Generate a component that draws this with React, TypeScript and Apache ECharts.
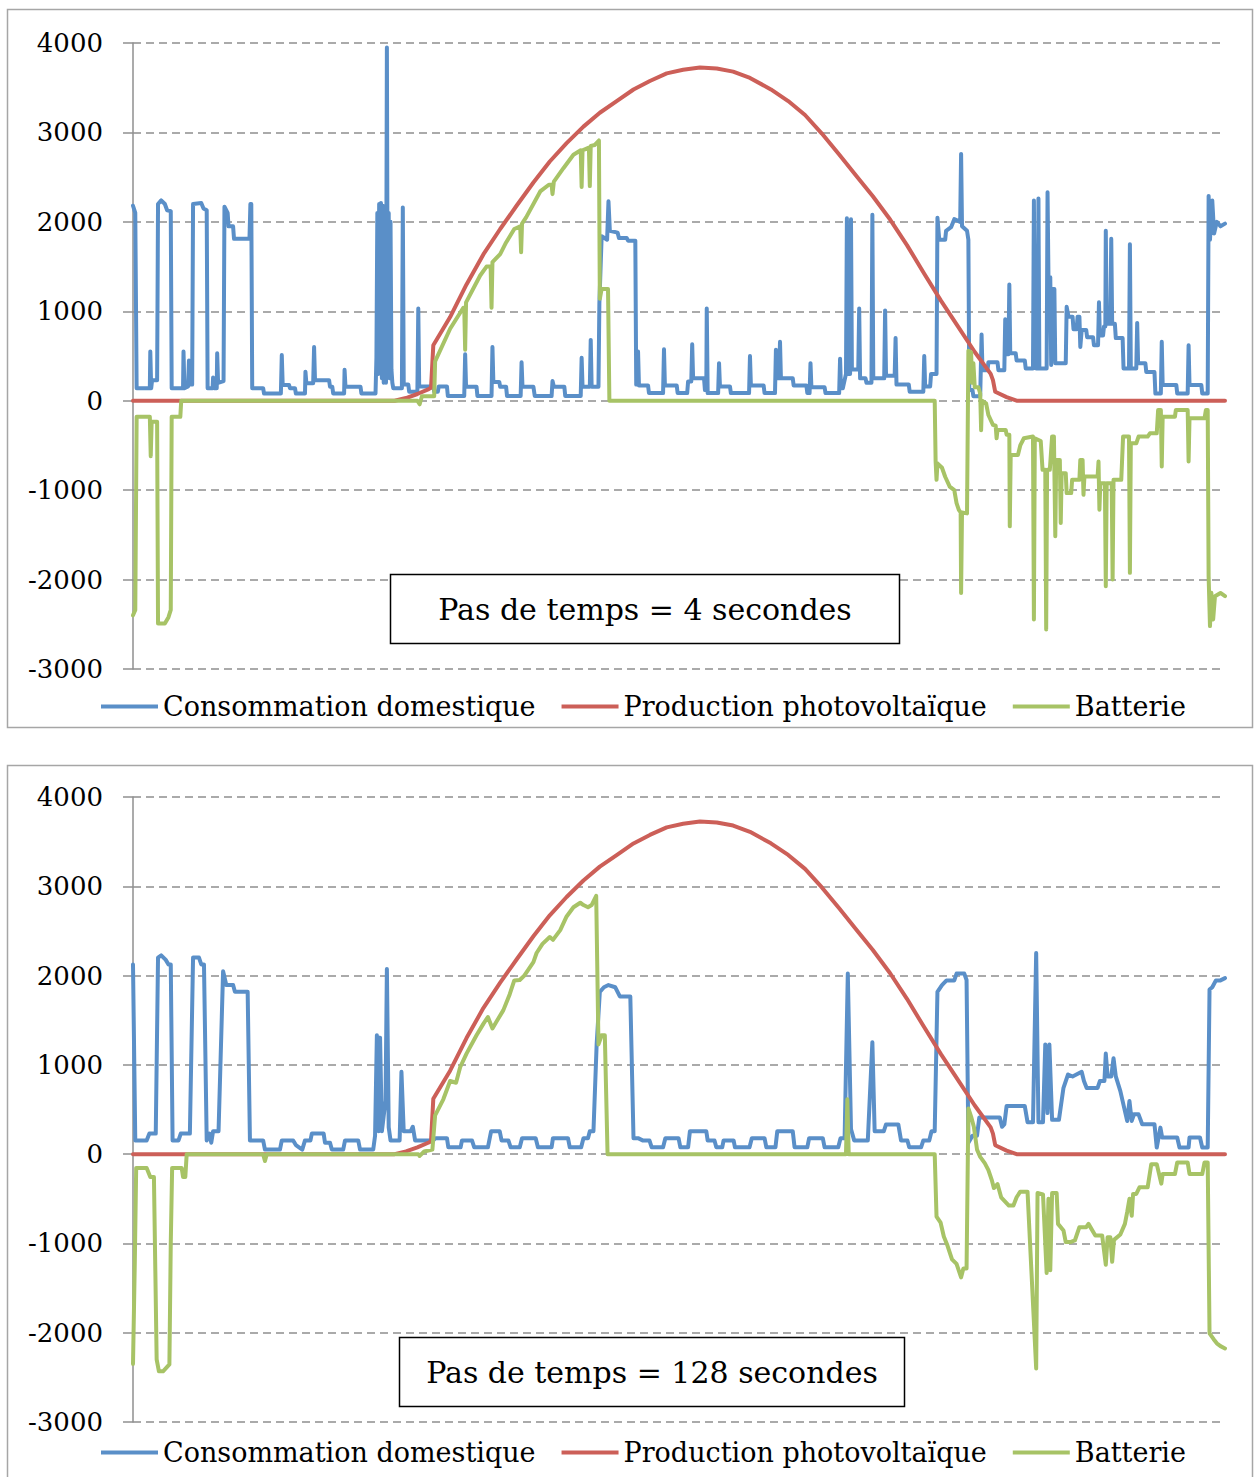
import React, { useEffect, useRef } from "react";
import * as echarts from "echarts";

type Pt = [number, number];

// ---- labels ----
const seriesNames = ["Consommation domestique", "Production photovoltaïque", "Batterie"];
const panelTitles = ["Pas de temps = 4 secondes", "Pas de temps = 128 secondes"];
const yMin = -3000;
const yMax = 4000;
const yStep = 1000;
const hoursMax = 24;

// ---- data: [hour of day, W] ----
const consumption4s: Pt[] = [
  [0, 2180], [0.05, 2100], [0.08, 140], [0.37, 140], [0.38, 550], [0.4, 140], [0.42, 230], [0.53, 230], [0.55, 2200], [0.62, 2240], [0.7, 2200], [0.75, 2130], [0.83, 2120], [0.85, 140],
  [1.1, 140], [1.11, 550], [1.13, 140], [1.21, 160], [1.23, 450], [1.25, 180], [1.3, 180], [1.32, 2200], [1.5, 2210], [1.55, 2150], [1.62, 2130], [1.64, 140],
  [1.75, 140], [1.76, 260], [1.78, 140], [1.84, 140], [1.85, 530], [1.87, 200], [1.99, 220], [2.01, 2170], [2.08, 2100], [2.1, 1950], [2.2, 1950], [2.22, 1810], [2.56, 1810], [2.58, 2200], [2.6, 2200], [2.62, 140],
  [2.86, 140], [2.88, 80], [3.25, 80], [3.27, 510], [3.29, 175], [3.43, 175], [3.45, 140], [3.56, 140], [3.58, 80], [3.78, 80], [3.79, 325], [3.81, 195], [3.96, 195], [3.98, 600], [4.0, 230], [4.31, 230], [4.33, 155], [4.38, 155], [4.4, 80], [4.64, 80], [4.65, 345], [4.67, 155], [5.0, 155], [5.02, 80], [5.33, 80],
  [5.35, 480], [5.37, 2100], [5.39, 300], [5.41, 2200], [5.43, 400], [5.45, 2210], [5.47, 250], [5.49, 2180], [5.51, 200], [5.54, 2050], [5.56, 200], [5.58, 3950], [5.6, 300], [5.62, 2100], [5.64, 250], [5.66, 2000], [5.68, 350], [5.7, 200], [5.72, 140],
  [5.91, 140], [5.93, 2160], [5.95, 180], [6.05, 180], [6.07, 100], [6.25, 100], [6.27, 1030], [6.29, 160], [6.6, 160], [6.62, 100], [6.7, 100], [6.72, 160], [6.9, 160], [6.92, 52], [7.28, 52], [7.3, 520], [7.32, 156], [7.55, 156], [7.57, 52], [7.88, 52], [7.9, 600], [7.92, 210], [8.05, 210], [8.07, 156], [8.2, 156], [8.22, 52], [8.52, 52], [8.54, 430], [8.56, 156], [8.8, 156], [8.83, 52], [9.2, 52], [9.22, 220], [9.25, 156], [9.48, 156], [9.5, 52], [9.84, 52], [9.86, 480], [9.88, 156], [10.04, 156], [10.06, 680], [10.08, 156], [10.23, 156], [10.25, 1090], [10.3, 1840], [10.42, 1800], [10.45, 2230], [10.48, 1900], [10.65, 1880], [10.68, 1820], [10.85, 1820], [10.88, 1790], [11.04, 1790], [11.06, 180], [11.09, 180], [11.1, 550], [11.12, 170], [11.32, 170], [11.34, 85], [11.65, 85], [11.67, 575], [11.69, 170], [11.95, 170], [11.97, 85], [12.18, 85], [12.2, 215], [12.27, 215], [12.29, 630], [12.31, 250], [12.55, 250], [12.57, 120], [12.6, 120], [12.61, 1030], [12.63, 85], [12.86, 85], [12.88, 420], [12.9, 160], [13.12, 160], [13.14, 85], [13.54, 85], [13.56, 500], [13.58, 170], [13.86, 170], [13.88, 85], [14.11, 85], [14.13, 570], [14.15, 250], [14.2, 250], [14.22, 660], [14.24, 250], [14.5, 250], [14.52, 170], [14.8, 170], [14.82, 85], [14.87, 85], [14.89, 420], [14.91, 150], [15.2, 150], [15.22, 85], [15.52, 85], [15.54, 470], [15.56, 140],
  [15.6, 140], [15.67, 300], [15.69, 2040], [15.71, 300], [15.76, 300], [15.78, 2030], [15.8, 350], [15.94, 350], [15.96, 1030], [15.98, 250], [16.1, 250], [16.12, 200], [16.23, 200], [16.25, 2080], [16.27, 250], [16.51, 250], [16.53, 1010], [16.55, 280], [16.74, 280], [16.76, 700], [16.78, 180], [17.05, 180], [17.07, 100], [17.37, 100], [17.39, 500], [17.41, 160], [17.52, 160], [17.54, 300], [17.66, 300],
  [17.68, 2046], [17.72, 1800], [17.85, 1800], [17.87, 1900], [17.98, 1940], [18.05, 2030], [18.18, 2000], [18.2, 2760], [18.22, 1950], [18.33, 1900], [18.36, 1800], [18.38, 120], [18.45, 120], [18.47, 50], [18.62, 50], [18.65, 740], [18.67, 340], [18.78, 340], [18.8, 430], [19.0, 430], [19.02, 340], [19.15, 340], [19.17, 910], [19.19, 520], [19.24, 520], [19.26, 1300], [19.28, 530], [19.4, 530], [19.42, 450], [19.6, 450], [19.62, 360], [19.78, 360], [19.8, 2240], [19.82, 700], [19.85, 360], [19.88, 360], [19.9, 2260], [19.92, 360], [20.08, 360], [20.1, 2330], [20.12, 1380], [20.16, 1380], [20.18, 400], [20.2, 1250], [20.25, 1250], [20.27, 420], [20.5, 420], [20.52, 1050], [20.56, 940], [20.65, 940], [20.67, 800], [20.74, 800], [20.76, 940], [20.8, 940], [20.82, 600], [20.85, 790], [20.95, 790], [20.97, 710], [21.1, 710], [21.12, 620], [21.21, 620], [21.23, 1100], [21.25, 730], [21.32, 730], [21.34, 830], [21.37, 830], [21.38, 1900], [21.4, 860], [21.48, 860], [21.5, 1810], [21.52, 860], [21.58, 860], [21.6, 700], [21.75, 700], [21.77, 360], [21.89, 360], [21.91, 1750], [21.93, 360], [22.05, 360], [22.07, 870], [22.09, 420], [22.25, 420], [22.27, 320], [22.45, 320], [22.47, 80], [22.59, 80], [22.61, 660], [22.63, 175], [22.93, 175], [22.95, 80], [23.18, 80], [23.2, 620], [23.22, 175], [23.48, 175], [23.5, 80], [23.62, 80], [23.64, 2290], [23.67, 1800], [23.72, 2240], [23.76, 1870], [23.82, 2000], [23.9, 1950], [24, 1980],
];

const pvProduction: Pt[] = [
  [0, 0], [5.75, 0], [6.0, 30], [6.25, 75], [6.5, 130], [6.55, 145], [6.6, 620], [6.97, 935], [7.33, 1300], [7.7, 1636], [8.07, 1920], [8.43, 2180], [8.8, 2440], [9.16, 2675], [9.53, 2880], [9.9, 3065], [10.26, 3220], [10.63, 3350], [11.0, 3480], [11.36, 3575], [11.73, 3660], [12.09, 3700], [12.46, 3725], [12.83, 3715], [13.19, 3680], [13.56, 3610], [14.02, 3481], [14.4, 3351], [14.77, 3195], [15.14, 2987], [15.52, 2753], [15.89, 2519], [16.26, 2286], [16.64, 2026], [17.01, 1740], [17.38, 1429], [17.76, 1117], [18.13, 831], [18.5, 545], [18.85, 300], [18.9, 230], [18.95, 100], [19.2, 40], [19.42, 0], [24, 0],
];

const battery4s: Pt[] = [
  [0, -2400], [0.05, -2340], [0.08, -180], [0.37, -180], [0.39, -620], [0.41, -235], [0.53, -235], [0.55, -2490], [0.7, -2490], [0.78, -2420], [0.83, -2340], [0.85, -180], [1.04, -180], [1.06, 0], [6.25, 0], [6.3, -40], [6.35, 50], [6.62, 50], [6.64, 440], [6.97, 805], [7.26, 1040], [7.28, 1040], [7.3, 570], [7.32, 1100], [7.63, 1400], [7.77, 1500], [7.86, 1500], [7.88, 1040], [7.9, 1550], [8.07, 1640], [8.2, 1770], [8.38, 1920], [8.51, 1950], [8.53, 1660], [8.55, 1980], [8.64, 2050], [8.95, 2340], [9.14, 2415], [9.2, 2415], [9.22, 2310], [9.25, 2450], [9.46, 2600], [9.68, 2750], [9.84, 2800], [9.86, 2390], [9.88, 2800], [10.02, 2830], [10.04, 2400], [10.06, 2850], [10.15, 2860], [10.24, 2910], [10.26, 1140], [10.3, 1250], [10.44, 1250], [10.47, 0],
  [17.62, 0], [17.64, -680], [17.66, -885], [17.68, -700], [17.78, -750], [17.85, -850], [17.95, -960], [18.05, -1000], [18.1, -1145], [18.15, -1220], [18.19, -1250], [18.2, -2150], [18.22, -1250], [18.33, -1260], [18.36, 560], [18.42, 540], [18.44, 200], [18.47, 420], [18.5, 150], [18.58, 150], [18.62, 80], [18.64, -330], [18.66, 0], [18.75, -30], [18.8, -160], [18.9, -270], [18.96, -280], [18.98, -420], [19.0, -327], [19.18, -327], [19.2, -380], [19.26, -380], [19.27, -1405], [19.29, -606], [19.45, -606], [19.5, -500], [19.58, -420], [19.78, -401], [19.8, -2446], [19.82, -420], [19.95, -450], [19.99, -773], [20.05, -773], [20.07, -2557], [20.09, -773], [20.15, -773], [20.2, -400], [20.24, -400], [20.27, -1516], [20.29, -662], [20.37, -662], [20.39, -1368], [20.41, -810], [20.5, -810], [20.52, -1033], [20.62, -1033], [20.64, -885], [20.8, -885], [20.82, -662], [20.87, -662], [20.89, -1052], [20.91, -848], [21.2, -848], [21.22, -680], [21.24, -1219], [21.26, -922], [21.36, -922], [21.38, -2074], [21.4, -922], [21.51, -922], [21.53, -2000], [21.55, -885], [21.72, -885], [21.76, -401], [21.89, -401], [21.91, -1925], [21.93, -476], [22.05, -476], [22.1, -401], [22.3, -401], [22.35, -364], [22.5, -364], [22.53, -104], [22.59, -104], [22.61, -736], [22.63, -178], [22.9, -178], [22.92, -104], [23.18, -104], [23.2, -680], [23.22, -197], [23.55, -197], [23.58, -104], [23.62, -104], [23.64, -1963], [23.67, -2520], [23.7, -2148], [23.74, -2446], [23.78, -2186], [23.9, -2150], [24, -2186],
];

const consumption128s: Pt[] = [
  [0, 2125], [0.05, 154], [0.3, 154], [0.36, 230], [0.5, 230], [0.55, 2202], [0.62, 2227], [0.72, 2176], [0.78, 2125], [0.83, 2125], [0.87, 154], [1.0, 154], [1.05, 230], [1.25, 230], [1.32, 2202], [1.45, 2202], [1.5, 2125], [1.56, 2125], [1.62, 154], [1.68, 230], [1.72, 128], [1.76, 256], [1.88, 256], [1.98, 2048], [2.05, 1894], [2.2, 1894], [2.24, 1818], [2.52, 1818], [2.57, 154], [2.86, 154], [2.9, 51], [3.23, 51], [3.27, 154], [3.52, 154], [3.58, 102], [3.72, 51], [3.78, 154], [3.9, 154], [3.93, 230], [4.19, 230], [4.22, 128], [4.33, 128], [4.37, 51], [4.62, 51], [4.66, 154], [4.95, 154], [4.99, 51], [5.28, 51], [5.32, 205], [5.36, 1331], [5.4, 256], [5.43, 1305], [5.47, 256], [5.55, 600], [5.58, 2074], [5.62, 300], [5.66, 154], [5.86, 154], [5.9, 922], [5.95, 256], [6.1, 256], [6.15, 307], [6.2, 154], [6.6, 154], [6.65, 179], [6.9, 179], [6.93, 77], [7.2, 77], [7.23, 154], [7.45, 154], [7.5, 77], [7.8, 77], [7.87, 256], [8.06, 256], [8.1, 154], [8.25, 154], [8.3, 77], [8.5, 77], [8.55, 179], [8.85, 179], [8.9, 77], [9.2, 77], [9.23, 179], [9.56, 179], [9.6, 77], [9.85, 77], [9.9, 179], [10.0, 179], [10.04, 256], [10.12, 256], [10.19, 1229], [10.26, 1818], [10.35, 1869], [10.45, 1894], [10.6, 1869], [10.7, 1766], [10.93, 1766], [11.0, 179], [11.1, 179], [11.2, 154], [11.35, 154], [11.4, 77], [11.65, 77], [11.7, 179], [11.99, 179], [12.03, 77], [12.2, 77], [12.24, 256], [12.6, 256], [12.63, 154], [12.78, 154], [12.82, 77], [12.95, 77], [12.98, 154], [13.2, 154], [13.23, 77], [13.55, 77], [13.6, 179], [13.88, 179], [13.92, 77], [14.12, 77], [14.16, 256], [14.5, 256], [14.54, 77], [14.82, 77], [14.86, 179], [15.16, 179], [15.2, 77], [15.5, 77], [15.55, 179], [15.64, 179], [15.71, 2022], [15.78, 282], [15.85, 154], [16.15, 154], [16.25, 1254], [16.3, 256], [16.5, 256], [16.55, 333], [16.82, 333], [16.88, 154], [17.02, 154], [17.06, 77], [17.32, 77], [17.37, 154], [17.5, 154], [17.55, 256], [17.62, 256], [17.68, 1818], [17.78, 1894], [17.88, 1946], [18.05, 1946], [18.1, 2022], [18.27, 2022], [18.32, 1950], [18.36, 128], [18.45, 205], [18.55, 205], [18.6, 410], [19.05, 410], [19.1, 307], [19.15, 333], [19.2, 538], [19.6, 538], [19.66, 358], [19.78, 358], [19.85, 2253], [19.9, 358], [20.0, 358], [20.05, 1229], [20.1, 460], [20.14, 1229], [20.2, 384], [20.35, 384], [20.45, 743], [20.55, 892], [20.65, 870], [20.85, 922], [20.9, 819], [20.96, 742], [21.2, 742], [21.25, 819], [21.35, 819], [21.38, 1126], [21.42, 870], [21.5, 870], [21.55, 1075], [21.6, 870], [21.7, 706], [21.85, 372], [21.9, 595], [21.95, 372], [22.0, 446], [22.1, 446], [22.18, 335], [22.45, 335], [22.5, 74], [22.58, 297], [22.62, 186], [22.95, 186], [23.0, 74], [23.2, 74], [23.22, 186], [23.45, 186], [23.5, 74], [23.62, 74], [23.66, 1843], [23.72, 1869], [23.8, 1946], [23.9, 1946], [24, 1971],
];

const battery128s: Pt[] = [
  [0, -2350], [0.04, -1200], [0.07, -154], [0.3, -154], [0.38, -256], [0.46, -256], [0.52, -2300], [0.57, -2432], [0.66, -2432], [0.8, -2355], [0.83, -1000], [0.86, -154], [1.07, -154], [1.1, -256], [1.15, -256], [1.18, 0], [2.86, 0], [2.9, -77], [2.94, 0], [6.27, 0], [6.3, -20], [6.4, 30], [6.58, 51], [6.64, 435], [6.82, 614], [6.97, 819], [7.1, 800], [7.19, 973], [7.33, 1126], [7.55, 1331], [7.7, 1459], [7.8, 1536], [7.9, 1408], [7.99, 1485], [8.14, 1613], [8.28, 1792], [8.38, 1946], [8.5, 1950], [8.6, 2000], [8.8, 2150], [8.87, 2253], [9.0, 2355], [9.16, 2432], [9.23, 2400], [9.39, 2509], [9.53, 2662], [9.68, 2765], [9.83, 2816], [9.9, 2790], [10.0, 2765], [10.08, 2790], [10.18, 2893], [10.23, 1229], [10.3, 1331], [10.37, 1331], [10.43, 0],
  [15.67, 0], [15.7, 614], [15.73, 0], [17.62, 0], [17.66, -700], [17.75, -768], [17.82, -922], [17.9, -1024], [18.0, -1178], [18.1, -1229], [18.2, -1380], [18.25, -1280], [18.32, -1280], [18.36, 512], [18.42, 420], [18.48, 307], [18.55, 51], [18.62, -30], [18.72, -100], [18.8, -179], [18.88, -300], [18.92, -380], [19.0, -335], [19.08, -483], [19.25, -576], [19.35, -576], [19.42, -483], [19.5, -420], [19.66, -420], [19.85, -2400], [19.88, -435], [20.0, -450], [20.08, -1330], [20.12, -500], [20.16, -1300], [20.2, -435], [20.3, -435], [20.33, -781], [20.45, -855], [20.5, -985], [20.6, -985], [20.7, -967], [20.8, -818], [20.95, -818], [21.0, -781], [21.15, -911], [21.3, -911], [21.38, -1240], [21.42, -930], [21.48, -930], [21.52, -1205], [21.56, -960], [21.7, -900], [21.8, -781], [21.85, -650], [21.9, -500], [21.95, -690], [21.98, -446], [22.05, -446], [22.12, -372], [22.3, -372], [22.38, -112], [22.5, -112], [22.6, -330], [22.63, -223], [22.9, -223], [22.95, -93], [23.18, -93], [23.22, -223], [23.5, -223], [23.55, -93], [23.62, -93], [23.66, -2007], [23.75, -2073], [23.82, -2119], [23.9, -2150], [24, -2176],
];

const panelConsumption = [consumption4s, consumption128s];
const panelPv = [pvProduction, pvProduction];
const panelBattery = [battery4s, battery128s];

// ---- styles / layout ----
const FONT = '"DejaVu Serif", serif';
const COLORS = ["#5A8FC8", "#CC5F58", "#A7C366"];
const GRID_COLOR = "#8f8f8f";
const grids = [
  { left: 133, top: 43, width: 1092, height: 626 },
  { left: 133, top: 797, width: 1092, height: 625 },
];
const frames = [
  { x: 7.5, y: 9.5, width: 1245, height: 718 },
  { x: 7.5, y: 765.5, width: 1245, height: 730 },
];
const boxes = [
  { x: 390.5, y: 574.5, width: 509, height: 69 },
  { x: 399.5, y: 1337.5, width: 505, height: 69 },
];
const legendTops = [688, 1434];

function buildOption(): any {
  const series: any[] = [];
  [0, 1].forEach((p) => {
    const datas = [panelConsumption[p], panelPv[p], panelBattery[p]];
    datas.forEach((d, i) => {
      series.push({
        type: "line",
        name: seriesNames[i],
        xAxisIndex: p,
        yAxisIndex: p,
        data: d,
        symbol: "none",
        showSymbol: false,
        color: COLORS[i],
        lineStyle: { color: COLORS[i], width: 4, cap: "round", join: "round" },
        emphasis: { disabled: true },
        z: 2 + i,
      });
    });
  });

  const graphic: any[] = [];
  frames.forEach((f) => {
    graphic.push({
      type: "rect",
      silent: true,
      z: -10,
      shape: f,
      style: { fill: "none", stroke: "#a6a6a6", lineWidth: 1.5 },
    });
  });
  boxes.forEach((b, i) => {
    graphic.push({
      type: "rect",
      silent: true,
      z: 100,
      shape: b,
      style: { fill: "#ffffff", stroke: "#000000", lineWidth: 1.5 },
    });
    graphic.push({
      type: "text",
      silent: true,
      z: 101,
      x: b.x + b.width / 2,
      y: b.y + b.height / 2,
      style: {
        text: panelTitles[i],
        fontFamily: FONT,
        fontSize: 30,
        fill: "#000",
        textAlign: "center",
        textVerticalAlign: "middle",
        align: "center",
        verticalAlign: "middle",
      },
    });
  });

  return {
    animation: false,
    backgroundColor: "#ffffff",
    textStyle: { fontFamily: FONT },
    grid: grids.map((g) => ({ ...g, containLabel: false })),
    xAxis: [0, 1].map((p) => ({
      type: "value",
      gridIndex: p,
      min: 0,
      max: hoursMax,
      show: false,
    })),
    yAxis: [0, 1].map((p) => ({
      type: "value",
      gridIndex: p,
      min: yMin,
      max: yMax,
      interval: yStep,
      axisLine: { show: true, onZero: false, lineStyle: { color: GRID_COLOR, width: 1.5 } },
      axisTick: { show: true, length: 10, lineStyle: { color: GRID_COLOR, width: 1.5 } },
      axisLabel: {
        color: "#000",
        fontFamily: FONT,
        fontSize: 26,
        margin: 30,
        formatter: (v: number) => String(v),
      },
      splitLine: { show: true, lineStyle: { color: GRID_COLOR, width: 1.5, type: [8, 5] } },
    })),
    legend: legendTops.map((top) => ({
      data: seriesNames,
      left: 96,
      top,
      icon: "rect",
      itemWidth: 57,
      itemHeight: 4,
      itemGap: 26,
      selectedMode: false,
      textStyle: { fontFamily: FONT, fontSize: 27, color: "#000" },
    })),
    series,
    graphic,
  };
}

export default function App() {
  const ref = useRef<HTMLDivElement | null>(null);
  useEffect(() => {
    if (!ref.current) return;
    const chart = echarts.init(ref.current, undefined, { renderer: "svg" });
    chart.setOption(buildOption());
    return () => chart.dispose();
  }, []);
  return (
    <div
      ref={ref}
      style={{ position: "absolute", left: 0, top: 0, width: 1254, height: 1477, background: "#fff" }}
    />
  );
}
